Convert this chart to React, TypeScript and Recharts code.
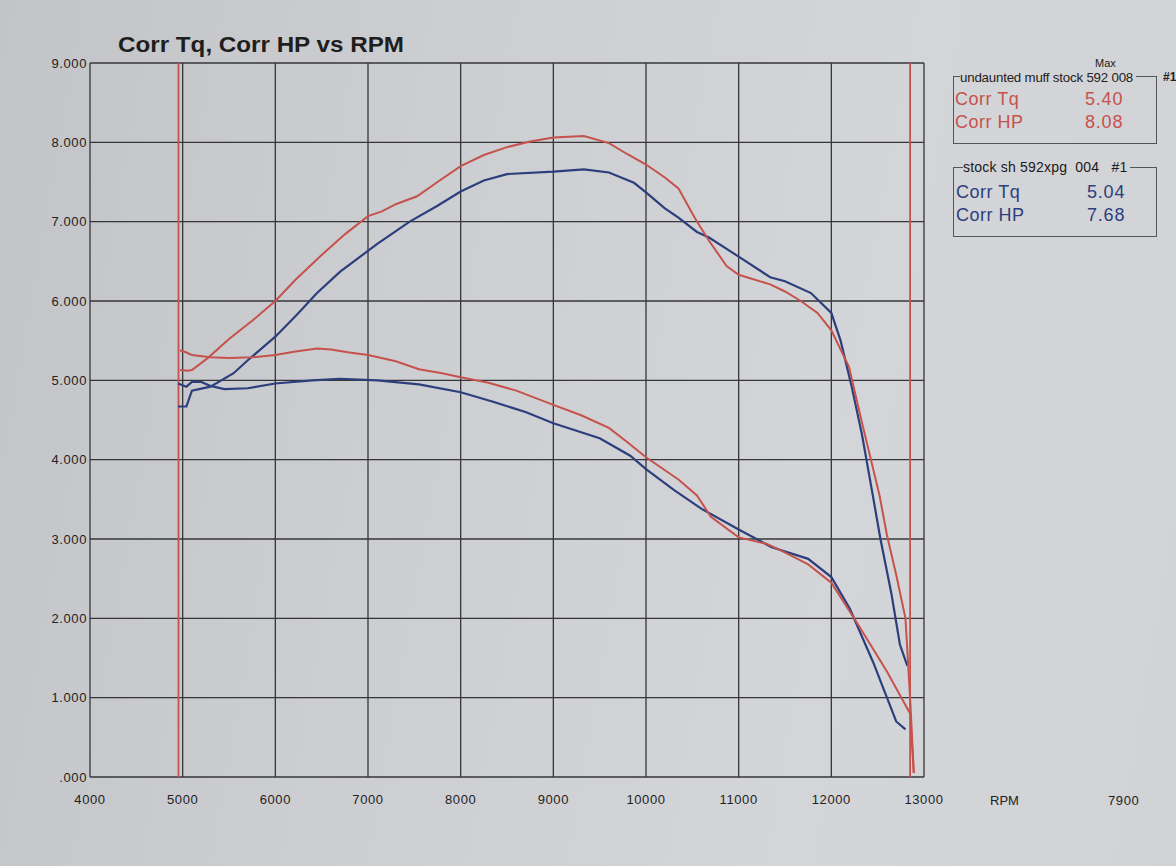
import React from "react";
import { LineChart, Line, XAxis, YAxis, CartesianGrid, ReferenceLine } from "recharts";

const rpmTicks = [4000, 5000, 6000, 7000, 8000, 9000, 10000, 11000, 12000, 13000];
const valueTicks = [0, 1, 2, 3, 4, 5, 6, 7, 8, 9];
const cursorLines = [4955, 12850];

// Run 1: undaunted muff stock 592 008 (red)
const redHpRpm = [4970, 5050, 5100, 5270, 5500, 5750, 6000, 6220, 6500, 6750, 7000, 7150, 7300, 7530, 7750, 8000, 8250, 8500, 8750, 9000, 9330, 9600, 9800, 10000, 10200, 10350, 10530, 10680, 10870, 11000, 11340, 11500, 11670, 11850, 12000, 12190, 12330, 12520, 12600, 12700, 12800, 12850, 12890];
const redHp = [5.13, 5.12, 5.13, 5.28, 5.52, 5.75, 6.0, 6.27, 6.58, 6.84, 7.07, 7.13, 7.22, 7.32, 7.5, 7.7, 7.84, 7.94, 8.01, 8.06, 8.08, 7.99, 7.85, 7.72, 7.56, 7.42, 7.04, 6.76, 6.44, 6.33, 6.21, 6.12, 6.0, 5.85, 5.63, 5.17, 4.47, 3.55, 3.05, 2.55, 2.0, 1.0, 0.05];
const redTqRpm = [4970, 5020, 5100, 5300, 5500, 5750, 6000, 6200, 6450, 6600, 6800, 7000, 7300, 7550, 7800, 8000, 8300, 8600, 9000, 9300, 9600, 9800, 10000, 10350, 10550, 10700, 11000, 11300, 11450, 11750, 12000, 12300, 12600, 12850, 12890];
const redTq = [5.38, 5.36, 5.32, 5.29, 5.28, 5.29, 5.32, 5.36, 5.4, 5.39, 5.35, 5.32, 5.24, 5.14, 5.09, 5.04, 4.97, 4.87, 4.69, 4.56, 4.4, 4.22, 4.03, 3.75, 3.55, 3.28, 3.02, 2.94, 2.86, 2.68, 2.45, 1.9, 1.33, 0.8, 0.05];

// Run 2: stock sh 592xpg 004 (blue)
const blueHpRpm = [4950, 5040, 5100, 5300, 5550, 5700, 6000, 6250, 6450, 6700, 7100, 7450, 7750, 8000, 8250, 8500, 9000, 9330, 9600, 9870, 10000, 10200, 10350, 10550, 10680, 11000, 11340, 11500, 11780, 12000, 12100, 12220, 12330, 12440, 12530, 12650, 12740, 12820];
const blueHp = [4.67, 4.67, 4.87, 4.92, 5.09, 5.25, 5.55, 5.85, 6.1, 6.37, 6.72, 7.0, 7.2, 7.38, 7.52, 7.6, 7.63, 7.66, 7.62, 7.49, 7.37, 7.17, 7.05, 6.87, 6.8, 6.56, 6.3, 6.25, 6.1, 5.85, 5.5, 4.92, 4.32, 3.6, 3.0, 2.3, 1.67, 1.4];
const blueTqRpm = [4950, 5040, 5100, 5200, 5300, 5450, 5700, 6000, 6400, 6700, 7100, 7550, 8000, 8350, 8700, 9000, 9500, 9830, 10000, 10300, 10600, 11000, 11350, 11750, 12000, 12200, 12450, 12700, 12800];
const blueTq = [4.96, 4.92, 4.98, 4.98, 4.93, 4.89, 4.9, 4.96, 5.0, 5.02, 5.0, 4.95, 4.85, 4.73, 4.6, 4.46, 4.27, 4.05, 3.88, 3.62, 3.38, 3.12, 2.9, 2.75, 2.52, 2.12, 1.45, 0.7, 0.6];

const legendRuns = ["undaunted muff stock 592 008", "stock sh 592xpg  004   #1"];
const legendLabels = ["Corr Tq", "Corr HP"];
const legendMaxRed = ["5.40", "8.08"];
const legendMaxBlue = ["5.04", "7.68"];

const RED = "#c5524c";
const BLUE = "#2c3f7c";

const toPoints = (xs: number[], ys: number[]) => xs.map((x, i) => ({ rpm: x, v: ys[i] }));

const font = "'Liberation Sans', Arial, sans-serif";

export default function App() {
  const paper = "linear-gradient(100deg, #c3c4c7 0%, #cdced1 35%, #d4d5d8 70%, #d2d3d6 100%)";
  const textAbs = (left: number, top: number, extra: React.CSSProperties = {}): React.CSSProperties => ({
    position: "absolute",
    left,
    top,
    fontFamily: font,
    whiteSpace: "pre",
    lineHeight: 1,
    ...extra,
  });
  const box = (top: number, height: number): React.CSSProperties => ({
    position: "absolute",
    left: 953,
    top,
    width: 202,
    height,
    border: "1.3px solid #555",
  });
  const tickStyle = { fill: "#222", fontSize: 13, fontFamily: font, letterSpacing: 0.6 };
  return (
    <div style={{ position: "absolute", left: 0, top: 0, width: 1176, height: 866, background: paper, overflow: "hidden" }}>
      <LineChart width={1176} height={866} margin={{ top: 63, right: 252, bottom: 49, left: 0 }}>
        <CartesianGrid stroke="#36363a" strokeWidth={1.3} />
        <XAxis
          dataKey="rpm"
          type="number"
          domain={[4000, 13000]}
          ticks={rpmTicks}
          allowDataOverflow
          height={40}
          tickSize={0}
          tickMargin={18}
          axisLine={false}
          tickLine={false}
          tick={tickStyle}
        />
        <YAxis
          type="number"
          domain={[0, 9]}
          ticks={valueTicks}
          width={90}
          tickSize={0}
          tickMargin={3}
          axisLine={false}
          tickLine={false}
          tickFormatter={(v: number) => (v === 0 ? ".000" : v.toFixed(3))}
          tick={tickStyle}
        />
        {cursorLines.map((x) => (
          <ReferenceLine key={x} x={x} stroke={RED} strokeWidth={1.8} ifOverflow="extendDomain" />
        ))}
        <Line data={toPoints(blueTqRpm, blueTq)} dataKey="v" type="linear" stroke={BLUE} strokeWidth={2.2} dot={false} isAnimationActive={false} />
        <Line data={toPoints(blueHpRpm, blueHp)} dataKey="v" type="linear" stroke={BLUE} strokeWidth={2.2} dot={false} isAnimationActive={false} />
        <Line data={toPoints(redTqRpm, redTq)} dataKey="v" type="linear" stroke={RED} strokeWidth={2} dot={false} isAnimationActive={false} />
        <Line data={toPoints(redHpRpm, redHp)} dataKey="v" type="linear" stroke={RED} strokeWidth={2} dot={false} isAnimationActive={false} />
      </LineChart>

      <div style={textAbs(118, 34, { fontSize: 22, fontWeight: "bold", color: "#1e1e1e", transform: "scaleX(1.1)", transformOrigin: "left center" })}>
        Corr Tq, Corr HP vs RPM
      </div>
      <div style={textAbs(990, 794, { fontSize: 13, color: "#222" })}>RPM</div>
      <div style={textAbs(1108, 794, { fontSize: 13, color: "#222", letterSpacing: 0.6 })}>7900</div>

      <div style={textAbs(1095, 58, { fontSize: 11, color: "#222" })}>Max</div>
      <div style={box(76, 66)} />
      <div style={textAbs(960, 71, { fontSize: 13.3, color: "#222", background: "#d3d4d7", paddingRight: 3, letterSpacing: -0.2 })}>{legendRuns[0]}</div>
      <div style={textAbs(1163, 71, { fontSize: 12, color: "#222", fontWeight: "bold" })}>#1</div>
      {legendLabels.map((l, i) => (
        <React.Fragment key={"r" + l}>
          <div style={textAbs(955, 90 + i * 23, { fontSize: 18, color: RED, letterSpacing: 0.5 })}>{l}</div>
          <div style={textAbs(1085, 90 + i * 23, { fontSize: 18, color: RED, letterSpacing: 0.8 })}>{legendMaxRed[i]}</div>
        </React.Fragment>
      ))}

      <div style={box(167, 68)} />
      <div style={textAbs(963, 160, { fontSize: 14, color: "#1a1a1a", background: "#d3d4d7", paddingRight: 2, letterSpacing: 0.2 })}>{legendRuns[1]}</div>
      {legendLabels.map((l, i) => (
        <React.Fragment key={"b" + l}>
          <div style={textAbs(956, 183 + i * 23, { fontSize: 18, color: BLUE, letterSpacing: 0.5 })}>{l}</div>
          <div style={textAbs(1087, 183 + i * 23, { fontSize: 18, color: BLUE, letterSpacing: 0.8 })}>{legendMaxBlue[i]}</div>
        </React.Fragment>
      ))}
    </div>
  );
}
